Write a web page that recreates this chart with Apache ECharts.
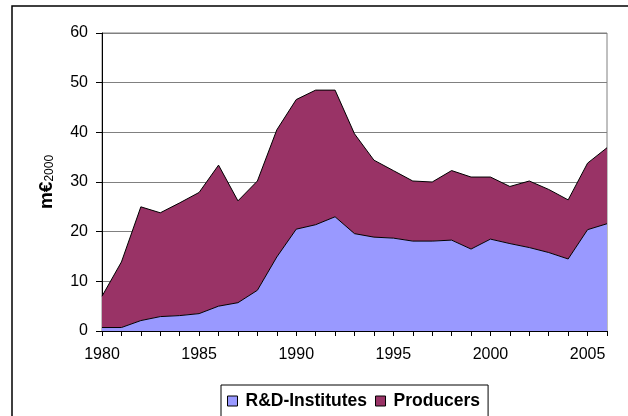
<!DOCTYPE html>
<html>
<head>
<meta charset="utf-8">
<script src="https://cdn.jsdelivr.net/npm/echarts@6/dist/echarts.min.js"></script>
<style>
  html, body { margin: 0; padding: 0; background: #fff; }
  #chart { width: 628px; height: 416px; }
</style>
</head>
<body>
<div id="chart"></div>
<script>
// years on the x axis
var years = [];
for (var y = 1980; y <= 2006; y++) years.push(String(y));

// stacked values, m€2000
var rdInstitutes = [0.7, 0.7, 2.1, 2.9, 3.1, 3.5, 5.0, 5.7, 8.2, 14.9, 20.5, 21.4, 23.0, 19.6,
    18.9, 18.7, 18.1, 18.1, 18.3, 16.5, 18.5, 17.6, 16.8, 15.8, 14.5, 20.4, 21.6];
var totals = [7.0, 13.9, 25.0, 23.8, 25.8, 27.9, 33.4, 26.2, 30.2, 40.5, 46.6, 48.5, 48.5, 39.7,
    34.4, 32.3, 30.2, 30.0, 32.3, 31.0, 31.0, 29.1, 30.2, 28.5, 26.4, 33.8, 36.9];
var producers = totals.map(function (t, i) { return +(t - rdInstitutes[i]).toFixed(1); });

var chart = echarts.init(document.getElementById('chart'));
var option = {
    animation: false,
    textStyle: { fontFamily: 'Liberation Sans, Arial, sans-serif' },
    graphic: [{
        type: 'rect',
        shape: { x: 12, y: 6, width: 640, height: 440 },
        style: { fill: 'none', stroke: '#000', lineWidth: 1.5 },
        silent: true
    }],
    grid: {
        left: 102, right: 21, top: 33, bottom: 85,
        show: true, borderColor: '#808080', borderWidth: 1
    },
    legend: {
        left: 221, top: 385,
        orient: 'horizontal',
        borderColor: '#000', borderWidth: 1,
        padding: [7, 8, 8, 6],
        itemWidth: 10, itemHeight: 10, itemGap: 8,
        icon: 'rect',
        textStyle: { fontSize: 17.5, fontWeight: 'bold', color: '#000', padding: [0, 0, 0, 3] },
        data: [
            { name: 'R&D-Institutes', itemStyle: { borderColor: '#000', borderWidth: 1 } },
            { name: 'Producers', itemStyle: { borderColor: '#000', borderWidth: 1 } }
        ]
    },
    xAxis: {
        type: 'category',
        boundaryGap: false,
        data: years,
        axisLine: { lineStyle: { color: '#000', width: 1 } },
        axisTick: { interval: 0, length: 5, lineStyle: { color: '#000' } },
        axisLabel: { interval: 4, margin: 16, fontSize: 16, color: '#000' },
        splitLine: { show: false }
    },
    yAxis: {
        type: 'value',
        min: 0, max: 60, interval: 10,
        name: '{a|m€}{b|2000}',
        nameLocation: 'middle',
        nameRotate: 90,
        nameGap: 46,
        nameTextStyle: {
            rich: {
                a: { fontSize: 19, fontWeight: 'bold', color: '#000' },
                b: { fontSize: 12, color: '#000', padding: [7, 0, 0, 0] }
            }
        },
        axisLine: { show: true, lineStyle: { color: '#000', width: 1 } },
        axisTick: { show: true, length: 6, lineStyle: { color: '#000' } },
        axisLabel: { margin: 14, fontSize: 16, color: '#000' },
        splitLine: { lineStyle: { color: '#808080', width: 1 } }
    },
    series: [
        {
            name: 'R&D-Institutes',
            type: 'line',
            stack: 'total',
            symbol: 'none',
            data: rdInstitutes,
            itemStyle: { color: '#9999FF' },
            lineStyle: { color: '#000', width: 1 },
            areaStyle: { color: '#9999FF', opacity: 1 }
        },
        {
            name: 'Producers',
            type: 'line',
            stack: 'total',
            symbol: 'none',
            data: producers,
            itemStyle: { color: '#993366' },
            lineStyle: { color: '#000', width: 1 },
            areaStyle: { color: '#993366', opacity: 1 }
        }
    ]
};
chart.setOption(option);
</script>
</body>
</html>
